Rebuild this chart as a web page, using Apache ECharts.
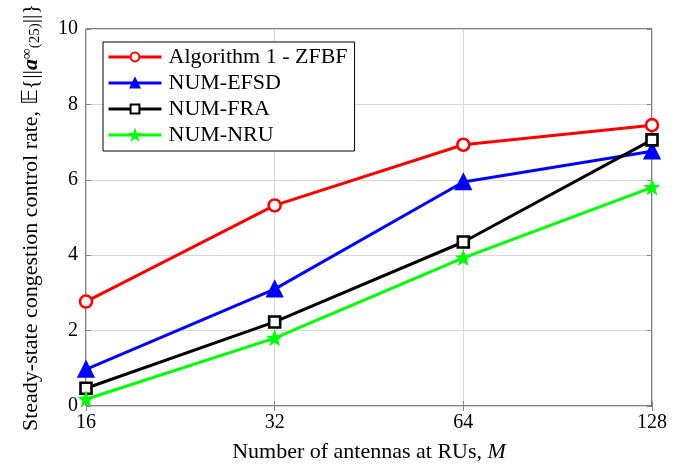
<!DOCTYPE html>
<html><head><meta charset="utf-8">
<script src="https://cdn.jsdelivr.net/npm/echarts@6/dist/echarts.min.js"></script>
<style>html,body{margin:0;padding:0;background:#fff}#c{width:692px;height:468px}</style>
</head><body><div id="c"></div>
<script>
const categories = ['16', '32', '64', '128'];
const seriesNames = ['Algorithm 1 - ZFBF', 'NUM-EFSD', 'NUM-FRA', 'NUM-NRU'];
const zfbf = [2.77, 5.32, 6.93, 7.45];
const efsd = [0.97, 3.1, 5.94, 6.76];
const fra = [0.47, 2.23, 4.35, 7.06];
const nru = [0.18, 1.8, 3.93, 5.8];
const yTicks = [0, 2, 4, 6, 8, 10];

const font = 'Liberation Serif, Times New Roman, serif';
const chart = echarts.init(document.getElementById('c'));
const starPath = 'path://M0,-10 L2.4,-3.3 L9.5,-3.1 L3.9,1.3 L5.9,8.1 L0,4.1 L-5.9,8.1 L-3.9,1.3 L-9.5,-3.1 L-2.4,-3.3 Z';
const mk = (name, data, color, symbol, size, fill) => ({
  name, type: 'line', data,
  lineStyle: { color, width: 3 },
  itemStyle: { color: fill, borderColor: color, borderWidth: 2.6 },
  symbol, symbolSize: size, showAllSymbol: true,
  emphasis: { disabled: true }, animation: false, z: 3
});
const tickStyle = { show: true, inside: true, length: 5, lineStyle: { color: '#888', width: 1 } };
chart.setOption({
  animation: false,
  grid: { left: 86, right: 40, top: 29, bottom: 62, show: true, borderColor: '#000', borderWidth: 1, backgroundColor: 'transparent' },
  legend: {
    orient: 'vertical', left: 103, top: 42, itemWidth: 53, itemHeight: 11, itemGap: 4,
    padding: [4, 7, 5, 4], borderColor: '#000', borderWidth: 1, backgroundColor: '#fff',
    lineStyle: { width: 3 },
    textStyle: { fontFamily: font, fontSize: 22, color: '#000', padding: [0, 0, 0, 2] },
    data: seriesNames
  },
  xAxis: [{
    type: 'category', data: categories, boundaryGap: false,
    axisLine: { show: false }, axisTick: tickStyle,
    axisLabel: { fontFamily: font, fontSize: 20, color: '#000', margin: 7 },
    splitLine: { show: true, lineStyle: { color: '#d8d8d8', width: 1 } },
    name: 'Number of antennas at RUs, {i|M}', nameLocation: 'middle', nameGap: 35,
    nameTextStyle: { fontFamily: font, fontSize: 22, color: '#000', rich: { i: { fontFamily: font, fontSize: 22, fontStyle: 'italic', color: '#000' } } }
  }, {
    type: 'category', data: categories, boundaryGap: false, position: 'top',
    axisLine: { show: false }, axisTick: tickStyle, axisLabel: { show: false }, splitLine: { show: false }
  }],
  yAxis: [{
    type: 'value', min: yTicks[0], max: yTicks[yTicks.length - 1], interval: 2,
    axisLine: { show: false }, axisTick: tickStyle,
    axisLabel: { fontFamily: font, fontSize: 20, color: '#000', margin: 8 },
    splitLine: { show: true, lineStyle: { color: '#d8d8d8', width: 1 } },
    name: 'Steady-state congestion control rate, 𝔼{||{b|a}{sup|∞}{sub|(25)}||}', nameLocation: 'middle', nameGap: 43,
    nameTextStyle: { fontFamily: font, fontSize: 22, color: '#000',
      rich: {
        b: { fontFamily: font, fontSize: 22, fontWeight: 'bold', fontStyle: 'italic', color: '#000' },
        sup: { fontFamily: font, fontSize: 15, color: '#000', verticalAlign: 'top', padding: [0, 0, 8, 0] },
        sub: { fontFamily: font, fontSize: 15, color: '#000', verticalAlign: 'bottom', padding: [8, 0, 0, 0] }
      } }
  }, {
    type: 'value', min: yTicks[0], max: yTicks[yTicks.length - 1], interval: 2, position: 'right',
    axisLine: { show: false }, axisTick: tickStyle, axisLabel: { show: false }, splitLine: { show: false }
  }],
  series: [
    mk(seriesNames[0], zfbf, '#ff0000', 'circle', 12, '#fff'),
    mk(seriesNames[1], efsd, '#0000ff', 'triangle', 14, '#0000ff'),
    mk(seriesNames[2], fra, '#000000', 'rect', 11, '#fff'),
    mk(seriesNames[3], nru, '#00ff00', starPath, 10, '#00ff00')
  ]
});
</script></body></html>
